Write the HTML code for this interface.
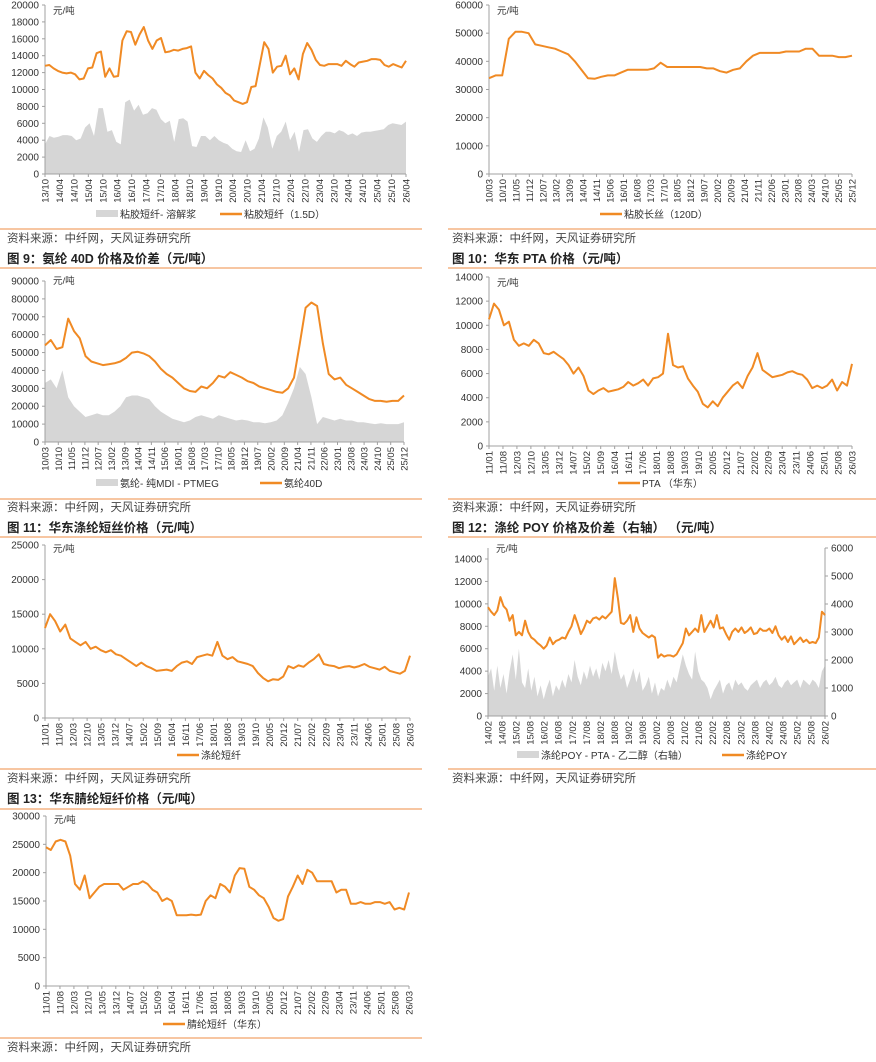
<!DOCTYPE html>
<html><head><meta charset="utf-8">
<style>
html,body{margin:0;padding:0;background:#fff;width:876px;height:1062px;overflow:hidden}
svg text{font-family:"Liberation Sans","Noto Sans CJK SC",sans-serif}
</style></head>
<body>
<svg id="page" width="876" height="1062" viewBox="0 0 876 1062" xmlns="http://www.w3.org/2000/svg"></svg>
<script>
// ---------- Chart data ----------
const c1Line=[12800,12900,12500,12200,12000,11900,12000,11800,11200,11300,12500,12600,14300,14500,11500,12500,11500,11600,15800,16900,16800,15300,16500,17400,15800,14800,15800,16100,14400,14500,14700,14600,14800,14900,15100,12000,11300,12200,11700,11300,10600,10200,9600,9300,8700,8500,8300,8500,10300,10400,13000,15600,14800,12000,12700,12800,14000,11800,12500,11200,14200,15500,14700,13500,12900,12800,13000,13000,13000,12800,13400,13000,12700,13200,13300,13400,13600,13600,13500,12900,12700,13000,12800,12600,13400];
const c1Area=[3500,4500,4300,4400,4600,4600,4500,4000,4200,5500,6000,4500,7800,7800,5000,5200,3800,3500,8500,8800,7500,8200,7000,7200,7800,7600,6500,6000,6300,3800,6500,6600,6200,3300,3200,4500,4500,4000,4500,4000,3700,3500,3000,2700,2600,4000,2700,3000,4200,6700,5500,3000,4500,5000,6200,4000,5000,2600,5200,5300,4200,3800,4500,5000,5000,4800,5200,5000,4600,4800,4500,4900,5000,5000,5100,5200,5300,5800,6000,5900,5800,6200];
const c1Ticks=["13/10","14/04","14/10","15/04","15/10","16/04","16/10","17/04","17/10","18/04","18/10","19/04","19/10","20/04","20/10","21/04","21/10","22/04","22/10","23/04","23/10","24/04","24/10","25/04","25/10","26/04"];
const c1Y=[0,2000,4000,6000,8000,10000,12000,14000,16000,18000,20000];

const c2Line=[34000,35000,35000,48000,50500,50500,50000,46000,45500,45000,44500,43500,42500,40000,37000,34000,33800,34500,35000,35000,36000,37000,37000,37000,37000,37500,39500,38000,38000,38000,38000,38000,38000,37500,37500,36500,36000,37000,37500,40000,42000,43000,43000,43000,43000,43500,43500,43500,44500,44500,42000,42000,42000,41500,41500,42000];
const c2Ticks=["10/03","10/10","11/05","11/12","12/07","13/02","13/09","14/04","14/11","15/06","16/01","16/08","17/03","17/10","18/05","18/12","19/07","20/02","20/09","21/04","21/11","22/06","23/01","23/08","24/03","24/10","25/05","25/12"];
const c2Y=[0,10000,20000,30000,40000,50000,60000];

const c3Line=[54000,57000,52000,53000,69000,62000,58000,48000,45000,44000,43000,43500,44000,45000,47000,50000,50500,49500,48000,45000,41000,38000,36000,33000,30000,28500,28000,31000,30000,33000,37000,36000,39000,37500,36000,34000,33000,31000,30000,29000,28000,27500,30000,36000,55000,75000,78000,76000,55000,38000,35000,36000,32000,30000,28000,26000,24000,23000,23000,22500,23000,23000,26000];
const c3Area=[33000,35000,30000,40000,25000,20000,17000,14000,15000,16000,15000,15000,17000,20000,25000,26000,26000,25000,24000,20000,17000,15000,13000,12000,11000,12000,14000,15000,14000,13000,15000,14000,13000,12000,12500,12000,11000,11000,10500,11000,12000,15000,22000,30000,42000,38000,25000,10000,14000,13000,12000,13000,12000,12000,11000,11000,10500,10000,10500,10000,10000,10000,11000];
const c3Ticks=c2Ticks.slice();
const c3Y=[0,10000,20000,30000,40000,50000,60000,70000,80000,90000];

const c4Line=[10500,11800,11300,10000,10300,8800,8300,8500,8300,8800,8500,7700,7600,7800,7500,7200,6700,6000,6500,5800,4600,4300,4600,4800,4500,4600,4700,4900,5300,5000,5200,5500,5000,5600,5700,6000,9300,6700,6500,6600,5600,5000,4500,3500,3200,3700,3300,4000,4500,5000,5300,4800,5800,6500,7700,6300,6000,5700,5800,5900,6100,6200,6000,5900,5500,4800,5000,4800,5000,5500,4600,5300,5000,6800];
const c4Ticks=["11/01","11/08","12/03","12/10","13/05","13/12","14/07","15/02","15/09","16/04","16/11","17/06","18/01","18/08","19/03","19/10","20/05","20/12","21/07","22/02","22/09","23/04","23/11","24/06","25/01","25/08","26/03"];
const c4Y=[0,2000,4000,6000,8000,10000,12000,14000];

const c5Line=[13000,15000,14000,12500,13500,11500,11000,10500,11000,10000,10300,9800,9500,9800,9200,9000,8500,8000,7500,8000,7500,7200,6800,6900,7000,6800,7500,8000,8200,7800,8800,9000,9200,9000,11000,9000,8500,8800,8200,8000,7800,7500,6500,5800,5300,5600,5500,6000,7500,7200,7600,7400,8000,8500,9200,7800,7600,7500,7200,7400,7500,7300,7500,7800,7400,7200,7000,7400,6800,6600,6400,6800,9000];
const c5Ticks=c4Ticks.slice();
const c5Y=[0,5000,10000,15000,20000,25000];

const c6Line=[9700,9300,9000,9400,10600,9800,9500,8500,9000,7200,7500,7200,8500,7500,7000,6800,6500,6300,6000,6300,7000,6400,6700,6800,7000,6900,7500,8000,9000,8200,7300,7800,8500,8300,8700,8800,8600,8900,8700,9000,9300,12300,10500,8300,8200,8500,9000,7500,8800,7800,7400,7200,7000,7200,7000,5200,5500,5300,5400,5400,5300,5500,6000,6500,7800,7200,7500,7800,7500,9000,7500,8000,8500,7900,9000,7800,7900,7300,6800,7500,7800,7500,7900,7400,7600,7900,7300,7400,7800,7600,7600,7800,7400,8000,7200,6800,7100,6600,7100,6400,6700,7000,6600,6800,6500,6600,6500,7000,9300,9000];
const c6Area=[1400,1700,900,1800,1000,1500,800,1600,2200,1300,2400,1200,1000,1700,900,1400,700,1100,600,1000,1300,700,1100,900,1300,1000,1500,1200,2000,1400,1100,1600,1300,1800,1400,1700,1300,1900,1600,2000,1500,2300,1700,1300,1500,1000,1300,1700,1200,1600,900,1100,1400,800,1200,700,1000,900,1300,1000,1400,1200,1700,2200,1800,1500,1300,2300,1600,1300,1200,1000,600,900,1100,1300,800,1100,1200,900,1300,1100,1200,1000,900,1100,1200,1300,1000,1200,1300,1100,1200,1400,1100,1000,1200,1300,1100,1200,1300,1000,1300,1200,1100,1300,1200,1000,1600,1800];
const c6Ticks=["14/02","14/08","15/02","15/08","16/02","16/08","17/02","17/08","18/02","18/08","19/02","19/08","20/02","20/08","21/02","21/08","22/02","22/08","23/02","23/08","24/02","24/08","25/02","25/08","26/02"];
const c6Y=[0,2000,4000,6000,8000,10000,12000,14000];
const c6Y2=[0,1000,2000,3000,4000,5000,6000];

const c7Line=[24500,24000,25500,25800,25500,23000,18000,17000,19500,15500,16500,17500,18000,18000,18000,18000,17000,17500,18000,18000,18500,18000,17000,16500,15000,15500,15000,12500,12500,12500,12600,12500,12600,15000,16000,15500,18000,17500,16500,19500,20800,20700,17500,17000,16000,15500,14000,12000,11500,11800,15800,17500,19500,18000,20500,20000,18500,18500,18500,18500,16500,17000,17000,14500,14500,14800,14500,14500,14800,14800,14500,14800,13500,13800,13500,16500];
const c7Ticks=c4Ticks.slice();
const c7Y=[0,5000,10000,15000,20000,25000,30000];

const NS="http://www.w3.org/2000/svg";
const svg=document.getElementById('page');
const ORANGE="#F08A24", GREY="#d6d6d6", AX="#a0a0a0";
function mk(tag,attrs,parent){const e=document.createElementNS(NS,tag);for(const k in attrs)e.setAttribute(k,attrs[k]);(parent||svg).appendChild(e);return e;}
function txt(x,y,s,size,attrs,parent){const t=mk('text',Object.assign({x:x,y:y,'font-size':size,fill:'#333'},attrs||{}),parent);t.textContent=s;return t;}

function chart(name,cfg){
  const g=mk('g',{});
  
  
  const x0=cfg.x0,x1=cfg.x1,yb=cfg.yb,yt=cfg.yt,ymax=cfg.ymax;
  const yS=v=>yb-(v/ymax)*(yb-yt);
  const xS=(i,n)=>x0+i*(x1-x0)/(n-1);
  if(cfg.area){
    const sc=cfg.area2max?(v=>yb-(v/cfg.area2max)*(yb-cfg.yt2)):yS;
    let pts=[x0+','+yb];
    cfg.area.forEach((v,i)=>pts.push(xS(i,cfg.area.length).toFixed(1)+','+sc(v).toFixed(1)));
    pts.push(x1+','+yb);
    const a=mk('polygon',{points:pts.join(' '),fill:GREY},g);
    
    
  }
  // axes
  mk('line',{x1:x0,y1:cfg.axTop,x2:x0,y2:yb,stroke:AX,'stroke-width':1},g);
  mk('line',{x1:x0,y1:yb,x2:x1,y2:yb,stroke:AX,'stroke-width':1},g);
  cfg.yt_labels.forEach(v=>{
    const y=yS(v);
    mk('line',{x1:x0-3,y1:y,x2:x0,y2:y,stroke:AX},g);
    const t=txt(x0-6,y+3.5,String(v),10,{'text-anchor':'end'},g);
    
    
  });
  if(cfg.y2){
    mk('line',{x1:x1,y1:cfg.yt2,x2:x1,y2:yb,stroke:AX},g);
    cfg.y2.forEach(v=>{
      const y=yb-(v/cfg.area2max)*(yb-cfg.yt2);
      mk('line',{x1:x1,y1:y,x2:x1+3,y2:y,stroke:AX},g);
      const t=txt(x1+6,y+3.5,String(v),10,{},g);
      
      
    });
  }
  const n=cfg.xt.length;
  cfg.xt.forEach((s,i)=>{
    const x=x0+i*(x1-x0)/(n-1);
    mk('line',{x1:x,y1:yb,x2:x,y2:yb+3,stroke:AX},g);
    const t=txt(0,0,s,9.5,{'text-anchor':'end',transform:`translate(${x+3.5},${yb+5}) rotate(-90)`},g);
    
    
  });
  const d=cfg.line.map((v,i)=>(i?'L':'M')+xS(i,cfg.line.length).toFixed(1)+' '+yS(v).toFixed(1)).join(' ');
  const p=mk('path',{d:d,fill:'none',stroke:ORANGE,'stroke-width':2,'stroke-linejoin':'round'},g);
  
  
  const u=txt(x0+8,cfg.unitY,'元/吨',9.5,{},g);
  
  
  cfg.legend.forEach(L=>{
    if(L.type==='area') mk('rect',{x:L.x,y:cfg.legY-4,width:22,height:7,fill:GREY},g);
    else mk('line',{x1:L.x,y1:cfg.legY,x2:L.x+22,y2:cfg.legY,stroke:ORANGE,'stroke-width':2.5},g);
    const t=txt(L.x+24,cfg.legY+4,L.label,10,{},g);
    
    
  });
}
function sep(x1,x2,y){mk('line',{x1:x1,y1:y,x2:x2,y2:y,stroke:'#F2A36A','stroke-width':1.2});}
function source(x,y){const t=txt(x,y,'资料来源：中纤网，天风证券研究所',11.5,{fill:'#444'});}
function title(x,y,s){const t=txt(x,y,s,12.5,{'font-weight':'bold',fill:'#222'});}

chart('viscose-chart',{x0:45,x1:406,yb:174,yt:5,ymax:20000,axTop:5,unitY:14,yt_labels:c1Y,xt:c1Ticks,line:c1Line,area:c1Area,legY:214,
  legend:[{type:'area',x:96,label:'粘胶短纤- 溶解浆'},{type:'line',x:220,label:'粘胶短纤（1.5D）'}]});
chart('viscose-filament-chart',{x0:489,x1:852,yb:174,yt:5,ymax:60000,axTop:5,unitY:14,yt_labels:c2Y,xt:c2Ticks,line:c2Line,legY:214,
  legend:[{type:'line',x:600,label:'粘胶长丝（120D）'}]});
chart('spandex-chart',{x0:45,x1:404,yb:442,yt:281,ymax:90000,axTop:281,unitY:284,yt_labels:c3Y,xt:c3Ticks,line:c3Line,area:c3Area,legY:483,
  legend:[{type:'area',x:96,label:'氨纶- 纯MDI - PTMEG'},{type:'line',x:260,label:'氨纶40D'}]});
chart('pta-chart',{x0:489,x1:852,yb:446,yt:277,ymax:14000,axTop:277,unitY:286,yt_labels:c4Y,xt:c4Ticks,line:c4Line,legY:483,
  legend:[{type:'line',x:618,label:'PTA （华东）'}]});
chart('polyester-staple-chart',{x0:45,x1:410,yb:718,yt:545,ymax:25000,axTop:545,unitY:552,yt_labels:c5Y,xt:c5Ticks,line:c5Line,legY:755,
  legend:[{type:'line',x:177,label:'涤纶短纤'}]});
chart('poy-chart',{x0:488,x1:825,yb:716,yt:559,ymax:14000,axTop:548,unitY:552,yt_labels:c6Y,xt:c6Ticks,line:c6Line,area:c6Area,area2max:6000,yt2:548,y2:c6Y2,legY:755,
  legend:[{type:'area',x:517,label:'涤纶POY - PTA - 乙二醇（右轴）'},{type:'line',x:722,label:'涤纶POY'}]});
chart('acrylic-chart',{x0:46,x1:409,yb:986,yt:816,ymax:30000,axTop:816,unitY:823,yt_labels:c7Y,xt:c7Ticks,line:c7Line,legY:1024,
  legend:[{type:'line',x:163,label:'腈纶短纤（华东）'}]});

sep(0,422,229);sep(448,876,229);
source(7,242);source(452,242);
title(7,263,'图 9：氨纶  40D 价格及价差（元/吨）');title(452,263,'图 10：华东  PTA 价格（元/吨）');
sep(0,422,268);sep(448,876,268);
sep(0,422,499);sep(448,876,499);
source(7,511);source(452,511);
title(7,532,'图 11：华东涤纶短丝价格（元/吨）');title(452,532,'图 12：涤纶  POY 价格及价差（右轴）  （元/吨）');
sep(0,422,537);sep(448,876,537);
sep(0,422,769);sep(448,876,769);
source(7,782);source(452,782);
title(7,803,'图 13：华东腈纶短纤价格（元/吨）');
sep(0,422,809);
sep(0,422,1038);
source(7,1051);
</script>
</body></html>
